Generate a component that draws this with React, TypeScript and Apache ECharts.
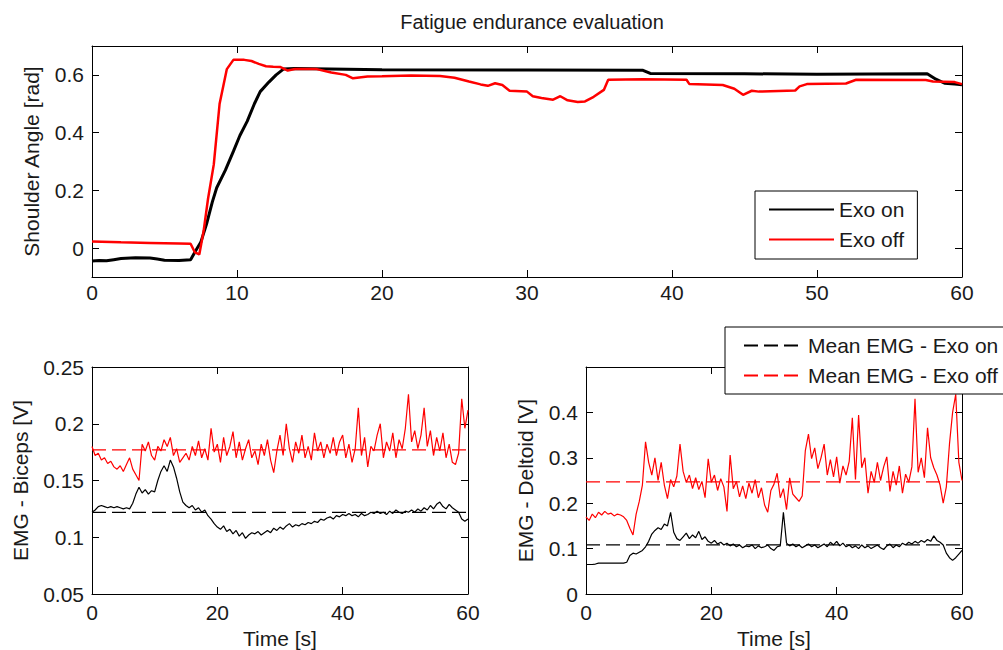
import React, { useEffect, useRef } from "react";
import * as echarts from "echarts";

// ---------- data ----------
const TITLE = "Fatigue endurance evaluation";

// Shoulder angle [rad], [time s, value]
const ANGLE_EXO_ON: [number, number][] = [
  [0, -0.045], [0.5, -0.043], [1, -0.044], [1.5, -0.04], [2, -0.036], [3, -0.033], [4, -0.034],
  [4.5, -0.038], [5, -0.042], [6, -0.043], [6.8, -0.04], [7.2, -0.005], [7.5, 0.02], [7.9, 0.083],
  [8.3, 0.16], [8.6, 0.209], [9.2, 0.27], [9.75, 0.335], [10.2, 0.39], [10.7, 0.439], [11.2, 0.5],
  [11.6, 0.542], [12.2, 0.575], [12.7, 0.6], [13.2, 0.62], [14, 0.622], [20, 0.618], [30, 0.617],
  [38, 0.616], [38.5, 0.605], [45, 0.604], [50, 0.602], [57.6, 0.604], [58.2, 0.585], [58.8, 0.571],
  [59.5, 0.568], [60, 0.566],
];
const ANGLE_EXO_OFF: [number, number][] = [
  [0, 0.023], [2, 0.02], [4, 0.018], [6, 0.016], [6.8, 0.015], [7.1, -0.015], [7.4, -0.022],
  [7.7, 0.06], [8.0, 0.17], [8.4, 0.29], [8.8, 0.5], [9.3, 0.62], [9.75, 0.652], [10.5, 0.652],
  [11, 0.648], [11.5, 0.638], [12, 0.63], [12.5, 0.628], [13, 0.627], [13.5, 0.615], [14, 0.62],
  [15.5, 0.62], [16.5, 0.608], [17.5, 0.6], [18, 0.588], [19, 0.594], [20, 0.595], [22, 0.598],
  [24, 0.596], [25, 0.59], [26, 0.577], [26.8, 0.567], [27.3, 0.562], [27.8, 0.571], [28.3, 0.565],
  [28.8, 0.545], [30, 0.542], [30.4, 0.526], [31, 0.52], [31.8, 0.514], [32.3, 0.526], [32.8, 0.512],
  [33.5, 0.506], [34, 0.508], [34.6, 0.524], [35.3, 0.548], [35.6, 0.583], [38, 0.585], [41, 0.583],
  [41.2, 0.568], [43.5, 0.565], [44.3, 0.552], [44.9, 0.531], [45.5, 0.545], [46, 0.542],
  [48.5, 0.546], [48.8, 0.56], [49.3, 0.568], [52, 0.57], [52.7, 0.583], [57.5, 0.582], [58, 0.577],
  [59.5, 0.575], [60, 0.568],
];

// EMG signals sampled every 0.5 s from 0 to 60 s
const SAMPLE_PERIOD = 0.5;
const BICEPS_EXO_OFF = [
  0.180, 0.172, 0.174, 0.168, 0.170, 0.165, 0.167, 0.162, 0.160, 0.163, 0.158, 0.164, 0.170, 0.160, 0.155, 0.150,
  0.182, 0.176, 0.184, 0.172, 0.168, 0.180, 0.176, 0.186, 0.180, 0.188, 0.172, 0.178, 0.166, 0.170, 0.174, 0.168,
  0.180, 0.172, 0.185, 0.170, 0.178, 0.168, 0.196, 0.175, 0.182, 0.166, 0.188, 0.172, 0.180, 0.193, 0.170, 0.184,
  0.168, 0.178, 0.186, 0.170, 0.176, 0.164, 0.182, 0.172, 0.186, 0.168, 0.157, 0.176, 0.190, 0.172, 0.200, 0.178,
  0.166, 0.184, 0.174, 0.190, 0.170, 0.180, 0.168, 0.192, 0.176, 0.184, 0.170, 0.182, 0.174, 0.188, 0.172, 0.184,
  0.190, 0.170, 0.182, 0.166, 0.178, 0.214, 0.172, 0.188, 0.162, 0.180, 0.176, 0.190, 0.200, 0.170, 0.184, 0.176,
  0.192, 0.170, 0.186, 0.178, 0.196, 0.226, 0.184, 0.194, 0.178, 0.190, 0.214, 0.180, 0.194, 0.172, 0.188, 0.176,
  0.192, 0.170, 0.182, 0.166, 0.164, 0.174, 0.222, 0.196, 0.212,
];
const BICEPS_EXO_ON = [
  0.122, 0.124, 0.127, 0.128, 0.127, 0.126, 0.127, 0.126, 0.127, 0.126, 0.125, 0.126, 0.125, 0.130, 0.138, 0.144,
  0.139, 0.142, 0.138, 0.141, 0.140, 0.150, 0.158, 0.163, 0.158, 0.168, 0.162, 0.152, 0.140, 0.131, 0.128, 0.126,
  0.128, 0.124, 0.126, 0.122, 0.124, 0.119, 0.116, 0.112, 0.109, 0.107, 0.110, 0.105, 0.107, 0.103, 0.106, 0.101,
  0.104, 0.099, 0.102, 0.104, 0.103, 0.105, 0.102, 0.104, 0.106, 0.104, 0.108, 0.106, 0.109, 0.107, 0.110, 0.112,
  0.109, 0.111, 0.110, 0.112, 0.111, 0.113, 0.112, 0.114, 0.113, 0.116, 0.115, 0.117, 0.118, 0.116, 0.119, 0.118,
  0.120, 0.119, 0.121, 0.119, 0.120, 0.118, 0.121, 0.119, 0.120, 0.122, 0.121, 0.123, 0.121, 0.122, 0.120, 0.123,
  0.121, 0.124, 0.122, 0.121, 0.123, 0.122, 0.124, 0.122, 0.125, 0.123, 0.126, 0.124, 0.128, 0.125, 0.129, 0.131,
  0.127, 0.125, 0.129, 0.126, 0.124, 0.122, 0.116, 0.114, 0.116,
];
const DELTOID_EXO_OFF = [
  0.170, 0.162, 0.176, 0.168, 0.180, 0.174, 0.182, 0.176, 0.178, 0.172, 0.176, 0.174, 0.170, 0.162, 0.145, 0.130,
  0.176, 0.204, 0.240, 0.335, 0.290, 0.262, 0.300, 0.250, 0.290, 0.240, 0.210, 0.252, 0.236, 0.260, 0.330, 0.270,
  0.246, 0.262, 0.232, 0.256, 0.230, 0.248, 0.212, 0.298, 0.246, 0.262, 0.228, 0.254, 0.236, 0.182, 0.306, 0.232,
  0.248, 0.214, 0.238, 0.210, 0.244, 0.222, 0.252, 0.212, 0.234, 0.196, 0.180, 0.228, 0.242, 0.266, 0.212, 0.232,
  0.186, 0.256, 0.220, 0.212, 0.204, 0.216, 0.316, 0.352, 0.298, 0.322, 0.276, 0.300, 0.330, 0.262, 0.296, 0.258,
  0.302, 0.244, 0.282, 0.262, 0.292, 0.388, 0.252, 0.394, 0.278, 0.300, 0.222, 0.270, 0.246, 0.290, 0.250, 0.280,
  0.302, 0.226, 0.270, 0.240, 0.282, 0.222, 0.264, 0.246, 0.280, 0.430, 0.268, 0.300, 0.256, 0.366, 0.300, 0.278,
  0.262, 0.240, 0.200, 0.236, 0.330, 0.400, 0.440, 0.290, 0.250,
];
const DELTOID_EXO_ON = [
  0.065, 0.065, 0.065, 0.066, 0.068, 0.068, 0.068, 0.068, 0.068, 0.068, 0.068, 0.068, 0.068, 0.070, 0.085, 0.090,
  0.088, 0.092, 0.096, 0.104, 0.116, 0.132, 0.140, 0.146, 0.142, 0.154, 0.150, 0.180, 0.136, 0.122, 0.118, 0.126,
  0.134, 0.122, 0.130, 0.124, 0.138, 0.120, 0.126, 0.116, 0.112, 0.118, 0.110, 0.114, 0.108, 0.112, 0.106, 0.110,
  0.104, 0.108, 0.102, 0.106, 0.104, 0.108, 0.100, 0.106, 0.102, 0.104, 0.108, 0.100, 0.096, 0.104, 0.106, 0.180,
  0.112, 0.106, 0.110, 0.104, 0.108, 0.102, 0.106, 0.110, 0.104, 0.108, 0.102, 0.106, 0.110, 0.104, 0.114, 0.108,
  0.116, 0.106, 0.112, 0.104, 0.108, 0.102, 0.106, 0.100, 0.108, 0.102, 0.106, 0.100, 0.104, 0.108, 0.102, 0.098,
  0.106, 0.110, 0.102, 0.108, 0.104, 0.112, 0.108, 0.114, 0.110, 0.116, 0.112, 0.118, 0.114, 0.120, 0.116, 0.128,
  0.118, 0.114, 0.108, 0.090, 0.080, 0.074, 0.080, 0.088, 0.096,
];

// Mean EMG levels [V]
const BICEPS_MEAN_ON = 0.122;
const BICEPS_MEAN_OFF = 0.177;
const DELTOID_MEAN_ON = 0.108;
const DELTOID_MEAN_OFF = 0.247;

const TIME_RANGE = [0, 60];
const ANGLE_TICKS = [0, 0.2, 0.4, 0.6];
const DELTOID_TICKS = [0, 0.1, 0.2, 0.3, 0.4];

// ---------- helpers ----------
const toPairs = (vals: number[]) => vals.map((v, i) => [i * SAMPLE_PERIOD, v]);
const meanLine = (m: number) => [[TIME_RANGE[0], m], [TIME_RANGE[1], m]];

const FONT = "Liberation Sans, Arial, Helvetica, sans-serif";
const TXT = "#1a1a1a";
const FS = 21;

function xAxes(grid: number, interval: number, withName: boolean, labelMargin: number) {
  const base = {
    type: "value",
    gridIndex: grid,
    min: TIME_RANGE[0],
    max: TIME_RANGE[1],
    interval,
    splitLine: { show: false },
    axisLine: { show: true, onZero: false, lineStyle: { color: "#000", width: 1 } },
    axisTick: { show: true, inside: true, length: 7, lineStyle: { color: "#000" } },
  };
  return [
    {
      ...base,
      position: "bottom",
      axisLabel: { show: true, color: TXT, fontSize: FS, fontFamily: FONT, margin: labelMargin },
      name: withName ? "Time [s]" : "",
      nameLocation: "middle",
      nameGap: 34,
      nameMoveOverlap: false,
      nameTextStyle: { color: TXT, fontSize: FS, fontFamily: FONT },
    },
    { ...base, position: "top", axisLabel: { show: false } },
  ];
}

function yAxes(
  grid: number,
  min: number,
  max: number,
  name: string,
  nameGap: number,
  opts: { interval?: number; custom?: number[] }
) {
  const tick: any = { show: true, inside: true, length: 7, lineStyle: { color: "#000" } };
  const label: any = { show: true, color: TXT, fontSize: FS, fontFamily: FONT, margin: 8 };
  if (opts.custom) {
    tick.customValues = opts.custom;
    label.customValues = opts.custom;
  }
  const base: any = {
    type: "value",
    gridIndex: grid,
    min,
    max,
    splitLine: { show: false },
    axisLine: { show: true, onZero: false, lineStyle: { color: "#000", width: 1 } },
  };
  if (opts.interval) base.interval = opts.interval;
  return [
    {
      ...base,
      position: "left",
      axisTick: tick,
      axisLabel: label,
      name,
      nameLocation: "middle",
      nameRotate: 90,
      nameGap,
      nameMoveOverlap: false,
      nameTextStyle: { color: TXT, fontSize: FS, fontFamily: FONT },
    },
    { ...base, position: "right", axisTick: tick, axisLabel: { show: false } },
  ];
}

function lineSeries(name: string, data: any, xi: number, yi: number, color: string, width: number, dashed = false) {
  return {
    type: "line",
    name,
    data,
    xAxisIndex: xi,
    yAxisIndex: yi,
    symbol: "none",
    showSymbol: false,
    smooth: false,
    clip: true,
    lineStyle: { color, width, type: dashed ? [14, 6] : "solid" },
    itemStyle: { color },
    emphasis: { disabled: true },
    z: dashed ? 4 : 2,
  };
}

const legendBase = {
  orient: "vertical",
  itemHeight: 14,
  itemGap: 9,
  borderColor: "#000",
  borderWidth: 1,
  borderRadius: 0,
  backgroundColor: "#fff",
  selectedMode: false,
  itemStyle: { opacity: 0, borderWidth: 0 },
  textStyle: { color: TXT, fontSize: FS, fontFamily: FONT },
};

export default function App() {
  const ref = useRef<HTMLDivElement>(null);

  useEffect(() => {
    if (!ref.current) return;
    const chart = echarts.init(ref.current, undefined, { renderer: "svg" });

    const option: any = {
      animation: false,
      backgroundColor: "#fff",
      textStyle: { fontFamily: FONT },
      title: {
        text: TITLE,
        left: 527,
        top: 7,
        textAlign: "center",
        textStyle: { color: TXT, fontSize: 20, fontWeight: "normal", fontFamily: FONT },
      },
      grid: [
        { left: 92, top: 46, width: 870, height: 231, containLabel: false },
        { left: 92, top: 367, width: 376, height: 227, containLabel: false },
        { left: 586, top: 367, width: 376, height: 227, containLabel: false },
      ],
      xAxis: [
        ...xAxes(0, 10, false, 5),
        ...xAxes(1, 20, true, 8),
        ...xAxes(2, 20, true, 8),
      ],
      yAxis: [
        ...yAxes(0, -0.1, 0.7, "Shoulder Angle [rad]", 50, { custom: ANGLE_TICKS }),
        ...yAxes(1, 0.05, 0.25, "EMG - Biceps [V]", 61, { interval: 0.05 }),
        ...yAxes(2, 0, 0.5, "EMG - Deltoid [V]", 50, { custom: DELTOID_TICKS }),
      ],
      legend: [
        {
          ...legendBase,
          data: ["Exo on", "Exo off"],
          left: 755,
          top: 191,
          padding: [8, 13, 9, 13],
          itemWidth: 65,
        },
        {
          ...legendBase,
          data: ["Mean EMG - Exo on", "Mean EMG - Exo off"],
          left: 725,
          top: 327,
          padding: [8, 20, 8, 18],
          itemWidth: 59,
        },
      ],
      series: [
        lineSeries("Exo on", ANGLE_EXO_ON, 0, 0, "#000000", 3),
        lineSeries("Exo off", ANGLE_EXO_OFF, 0, 0, "#ff0000", 2.5),

        lineSeries("Biceps - Exo on", toPairs(BICEPS_EXO_ON), 2, 2, "#000000", 1.2),
        lineSeries("Biceps - Exo off", toPairs(BICEPS_EXO_OFF), 2, 2, "#ff0000", 1.2),
        lineSeries("Mean EMG - Exo on", meanLine(BICEPS_MEAN_ON), 2, 2, "#000000", 1.3, true),
        lineSeries("Mean EMG - Exo off", meanLine(BICEPS_MEAN_OFF), 2, 2, "#ff0000", 1.3, true),

        lineSeries("Deltoid - Exo on", toPairs(DELTOID_EXO_ON), 4, 4, "#000000", 1.2),
        lineSeries("Deltoid - Exo off", toPairs(DELTOID_EXO_OFF), 4, 4, "#ff0000", 1.2),
        lineSeries("Mean EMG - Exo on", meanLine(DELTOID_MEAN_ON), 4, 4, "#000000", 1.3, true),
        lineSeries("Mean EMG - Exo off", meanLine(DELTOID_MEAN_OFF), 4, 4, "#ff0000", 1.3, true),
      ],
    };

    chart.setOption(option);
    return () => chart.dispose();
  }, []);

  return (
    <div
      ref={ref}
      style={{ position: "absolute", left: 0, top: 0, width: 1003, height: 650, background: "#fff" }}
    />
  );
}
